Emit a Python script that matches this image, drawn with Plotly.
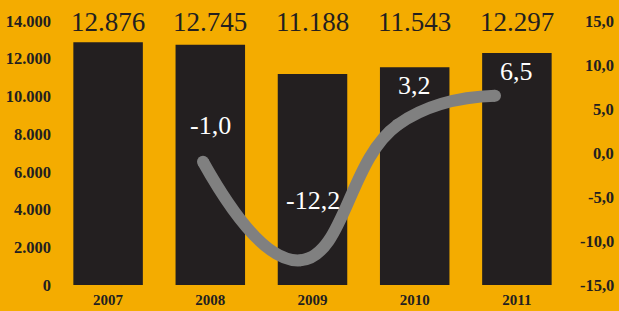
import plotly.graph_objects as go

years = ["2007", "2008", "2009", "2010", "2011"]
totals = [12876, 12745, 11188, 11543, 12297]
change_years = ["2008", "2009", "2010", "2011"]
change_pct = [-1.0, -12.2, 3.2, 6.5]
left_ticks = [0, 2000, 4000, 6000, 8000, 10000, 12000, 14000]
right_ticks = [-15, -10, -5, 0, 5, 10, 15]

BG = "#F4AC00"
DARK = "#231F20"
GRAY = "#808080"
SERIF = "Liberation Serif, Times New Roman, serif"

def fmt_thousands(v):
    return f"{v:,}".replace(",", ".")

def fmt_dec(v):
    return f"{v:.1f}".replace(".", ",")

xpos = {y: i for i, y in enumerate(years)}
bar_x = [xpos[y] for y in years]
line_x = [xpos[y] for y in change_years]

fig = go.Figure()
fig.add_trace(go.Bar(x=bar_x, y=totals, marker=dict(color=DARK, line=dict(width=0)),
                     xaxis="x", yaxis="y", hoverinfo="skip"))
fig.add_trace(go.Scatter(x=line_x, y=change_pct, mode="lines+markers",
                         line=dict(color=GRAY, width=12, shape="spline", smoothing=1.3),
                         marker=dict(color=GRAY, size=12, line=dict(width=0)),
                         xaxis="x2", yaxis="y2", hoverinfo="skip"))

annotations = []
for x, v in zip(bar_x, totals):
    annotations.append(dict(x=x, y=1, xref="x", yref="paper", text=fmt_thousands(v),
                            showarrow=False, yanchor="middle", yshift=-1,
                            font=dict(family=SERIF, size=27, color=DARK)))
label_shift = [36, 60, 39, 24]
for x, v, s in zip(line_x, change_pct, label_shift):
    annotations.append(dict(x=x, y=v, xref="x", yref="y2", text=fmt_dec(v),
                            showarrow=False, yanchor="middle", yshift=s,
                            font=dict(family=SERIF, size=26, color="white")))
for v in right_ticks:
    annotations.append(dict(x=1.0, y=v, xref="paper", yref="y2", text=f"<b>{fmt_dec(v)}</b>",
                            showarrow=False, xanchor="right", yanchor="middle", xshift=48,
                            font=dict(family=SERIF, size=16.5, color=DARK)))

fig.update_layout(
    width=619, height=311,
    margin=dict(l=57, r=51, t=21, b=26),
    paper_bgcolor=BG, plot_bgcolor=BG,
    showlegend=False,
    bargap=0.32,
    xaxis=dict(range=[-0.5, len(years) - 0.5], automargin=False,
               showgrid=False, zeroline=False, showline=False, ticks="",
               tickfont=dict(family=SERIF, size=15, color=DARK), ticklabelstandoff=4,
               tickvals=bar_x, ticktext=[f"<b>{y}</b>" for y in years]),
    xaxis2=dict(overlaying="x", range=[-0.5, 4.75], visible=False, automargin=False),
    yaxis=dict(range=[0, 14000], automargin=False, showgrid=False, zeroline=False,
               showline=False, ticks="",
               tickvals=left_ticks, ticktext=[f"<b>{fmt_thousands(v)}</b>" for v in left_ticks],
               tickfont=dict(family=SERIF, size=16.5, color=DARK), ticklabelstandoff=5),
    yaxis2=dict(range=[-15, 15], overlaying="y", side="right", showgrid=False, automargin=False,
                zeroline=False, showline=False, showticklabels=False, ticks=""),
    annotations=annotations,
)

fig.write_html("out.html", config={"displayModeBar": False},
               post_script="document.body.style.margin='0';document.body.style.padding='0';")
